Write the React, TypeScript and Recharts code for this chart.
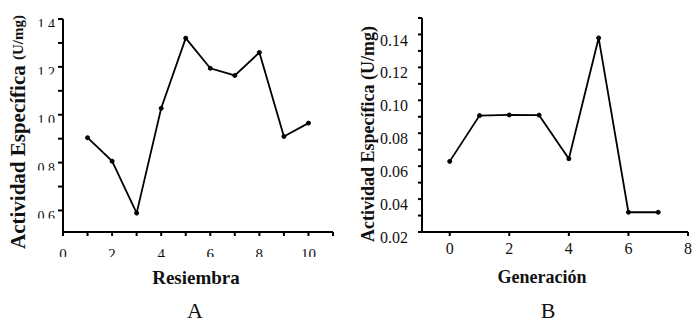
import React from "react";
import { LineChart, Line, XAxis, YAxis } from "recharts";

const resiembra = [1, 2, 3, 4, 5, 6, 7, 8, 9, 10];
const actividadA = [0.904, 0.806, 0.589, 1.027, 1.32, 1.194, 1.164, 1.26, 0.909, 0.965];
const xTicksA = [0, 1, 2, 3, 4, 5, 6, 7, 8, 9, 10, 11];
const yTicksA = [0.6, 0.7, 0.8, 0.9, 1.0, 1.1, 1.2, 1.3, 1.4];

const generacion = [0, 1, 2, 3, 4, 5, 6, 7];
const actividadB = [0.0629, 0.0907, 0.0911, 0.091, 0.0645, 0.1379, 0.032, 0.032];
const xTicksB = [0, 2, 4, 6, 8];
const yTicksB = [0.02, 0.03, 0.04, 0.05, 0.06, 0.07, 0.08, 0.09, 0.1, 0.11, 0.12, 0.13, 0.14, 0.15];

const dataA = resiembra.map((x, i) => ({ x, y: actividadA[i] }));
const dataB = generacion.map((x, i) => ({ x, y: actividadB[i] }));

const FONT = "Liberation Serif";

let clipCounter = 0;

function ClipText(props: any) {
  const { x, top, anchor, vis, size, text } = props;
  const id = "clip" + clipCounter++;
  return (
    <g>
      <defs>
        <clipPath id={id}>
          <rect x={x - 40} y={top - 3} width={80} height={vis + 3} />
        </clipPath>
      </defs>
      <text
        x={x}
        y={top + 0.66 * size}
        textAnchor={anchor}
        fontFamily={FONT}
        fontSize={size}
        fill="#111"
        clipPath={vis ? `url(#${id})` : undefined}
      >
        {text}
      </text>
    </g>
  );
}

const YTickA = (props: any) => {
  const v = props.payload.value;
  if (Math.round(v * 10) % 2 !== 0) return <g />;
  return <ClipText x={55} top={props.y + 1} anchor="end" vis={7} size={14} text={v.toFixed(1)} />;
};
const XTickA = (props: any) => {
  const v = props.payload.value;
  if (v % 2 !== 0) return <g />;
  return <ClipText x={props.x} top={249} anchor="middle" vis={8} size={15} text={String(v)} />;
};
const YTickB = (props: any) => {
  const v = props.payload.value;
  if (Math.round(v * 100) % 2 !== 0) return <g />;
  return <ClipText x={68} top={props.y + 0.5} anchor="end" vis={0} size={16} text={v.toFixed(2)} />;
};
const XTickB = (props: any) => {
  const v = props.payload.value;
  return <ClipText x={props.x} top={243} anchor="middle" vis={0} size={16} text={String(v)} />;
};

const YTitleA = () => (
  <text
    transform="translate(18,132) rotate(-90)"
    textAnchor="middle"
    dominantBaseline="central"
    fontFamily={FONT}
    fontWeight="bold"
    fill="#111"
  >
    <tspan fontSize={21}>Actividad Específica </tspan>
    <tspan fontSize={15}>(U/mg)</tspan>
  </text>
);
const YTitleB = () => (
  <text
    transform="translate(28,134) rotate(-90)"
    textAnchor="middle"
    dominantBaseline="central"
    fontFamily={FONT}
    fontWeight="bold"
    fill="#111"
  >
    <tspan fontSize={18}>Actividad Específica </tspan>
    <tspan fontSize={18}>(U/mg)</tspan>
  </text>
);
const XTitleA = () => (
  <g>
    <text x={196} y={277} textAnchor="middle" dominantBaseline="central" fontFamily={FONT} fontWeight="bold" fontSize={19} fill="#111">
      Resiembra
    </text>
    <text x={195} y={318} textAnchor="middle" fontFamily={FONT} fontSize={22} fill="#111">
      A
    </text>
  </g>
);
const XTitleB = () => (
  <g>
    <text x={202} y={277} textAnchor="middle" dominantBaseline="central" fontFamily={FONT} fontWeight="bold" fontSize={18} fill="#111">
      Generación
    </text>
    <text x={208} y={318} textAnchor="middle" fontFamily={FONT} fontSize={22} fill="#111">
      B
    </text>
  </g>
);

export default function App() {
  return (
    <div style={{ position: "absolute", left: 0, top: 0, width: 694, height: 322, background: "#fff" }}>
      <div style={{ position: "absolute", left: 0, top: 0 }}>
        <LineChart width={340} height={322} data={dataA} margin={{ top: 19, right: 7, bottom: 60, left: 0 }}>
          <XAxis
            type="number"
            dataKey="x"
            domain={[0, 11]}
            ticks={xTicksA}
            interval={0}
            allowDataOverflow
            stroke="#000"
            strokeWidth={2}
            tickSize={4}
            tickMargin={0}
            tick={<XTickA />}
            height={30}
            label={{ content: () => <XTitleA /> }}
          />
          <YAxis
            type="number"
            dataKey="y"
            domain={[0.51, 1.4]}
            ticks={yTicksA}
            interval={0}
            allowDataOverflow
            stroke="#000"
            strokeWidth={2}
            tickSize={5}
            width={63}
            tick={<YTickA />}
            label={{ content: () => <YTitleA /> }}
          />
          <Line
            type="linear"
            dataKey="y"
            stroke="#000"
            strokeWidth={1.8}
            dot={{ r: 2, fill: "#000", stroke: "#000", strokeWidth: 1 }}
            isAnimationActive={false}
          />
        </LineChart>
      </div>
      <div style={{ position: "absolute", left: 340, top: 0 }}>
        <LineChart width={354} height={322} data={dataB} margin={{ top: 18, right: 6, bottom: 60, left: 0 }}>
          <XAxis
            type="number"
            dataKey="x"
            domain={[-0.93, 8]}
            ticks={xTicksB}
            interval={0}
            allowDataOverflow
            stroke="#000"
            strokeWidth={2}
            tickSize={4}
            tickMargin={0}
            tick={<XTickB />}
            height={30}
            label={{ content: () => <XTitleB /> }}
          />
          <YAxis
            type="number"
            dataKey="y"
            domain={[0.02, 0.15]}
            ticks={yTicksB}
            interval={0}
            allowDataOverflow
            stroke="#000"
            strokeWidth={2}
            tickSize={4}
            width={82}
            tick={<YTickB />}
            label={{ content: () => <YTitleB /> }}
          />
          <Line
            type="linear"
            dataKey="y"
            stroke="#000"
            strokeWidth={1.8}
            dot={{ r: 2, fill: "#000", stroke: "#000", strokeWidth: 1 }}
            isAnimationActive={false}
          />
        </LineChart>
      </div>
    </div>
  );
}
